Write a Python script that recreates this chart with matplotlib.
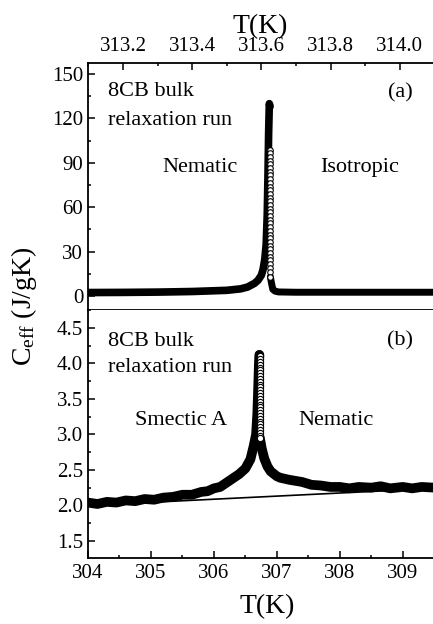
import matplotlib
matplotlib.use('Agg')
import matplotlib.pyplot as plt
from matplotlib.ticker import MultipleLocator, FormatStrFormatter

plt.rcParams['font.family'] = ['Liberation Serif', 'DejaVu Serif']
plt.rcParams['mathtext.fontset'] = 'custom'
plt.rcParams['mathtext.rm'] = 'Liberation Serif'
plt.rcParams['mathtext.it'] = 'Liberation Serif:italic'

# (a) nematic -> isotropic, thick part of the curve
t_ni = [313.10, 313.20, 313.30, 313.40, 313.50, 313.54, 313.56, 313.58, 313.59,
        313.60, 313.605, 313.61, 313.614, 313.617, 313.619, 313.621, 313.623,
        313.625]
c_ni = [2.3, 2.4, 2.6, 3.0, 3.8, 4.8, 6.0, 8.5, 10.5,
        14.0, 18.0, 25.0, 35.0, 55.0, 80.0, 110.0, 130.0,
        128.0]
# (a) open circles on the fast drop above the transition
t_ni_drop = [313.626] * 35
c_ni_drop = [99, 96.5, 94, 91.5, 89, 86.5, 84, 81.5, 79, 76.5, 74, 71.5, 69,
             66.5, 64, 61.5, 59, 56.5, 54, 51.5, 49, 46.5, 44, 41.5, 39, 36.5,
             34, 31.5, 29, 26.5, 24, 21.5, 19, 16, 13]
t_iso = [313.626, 313.629, 313.633, 313.640, 313.650, 313.70, 313.80, 313.90,
         314.00, 314.10]
c_iso = [13.0, 9.0, 4.5, 3.2, 2.7, 2.5, 2.5, 2.5, 2.5, 2.5]

# (b) smectic A -> nematic
t_an = [304.0, 304.15, 304.3, 304.45, 304.6, 304.75, 304.9, 305.05, 305.2, 305.35,
        305.5, 305.65, 305.8, 305.9, 306.0, 306.1, 306.25,
        306.4, 306.5, 306.58, 306.63, 306.67, 306.69, 306.705, 306.715, 306.722]
c_an = [2.04, 2.02, 2.05, 2.04, 2.07, 2.06, 2.09, 2.08, 2.11, 2.12,
        2.15, 2.15, 2.19, 2.20, 2.24, 2.26, 2.35,
        2.44, 2.52, 2.65, 2.83, 3.00, 3.30, 3.70, 4.00, 4.12]
t_an_drop = [306.727] * 30
c_an_drop = [4.10, 4.06, 4.02, 3.98, 3.94, 3.90, 3.86, 3.82, 3.78, 3.74, 3.70,
             3.66, 3.62, 3.58, 3.54, 3.50, 3.46, 3.42, 3.38, 3.34, 3.30, 3.26,
             3.22, 3.18, 3.14, 3.10, 3.06, 3.02, 2.98, 2.95]
t_nem = [306.73, 306.76, 306.80, 306.85, 306.90, 307.00, 307.05, 307.20, 307.40,
         307.55, 307.70, 307.85, 308.00, 308.15, 308.30, 308.50, 308.65, 308.80,
         309.00, 309.15, 309.30, 309.50]
c_nem = [2.95, 2.80, 2.66, 2.55, 2.48, 2.41, 2.39, 2.36, 2.33,
         2.29, 2.28, 2.26, 2.26, 2.24, 2.26, 2.25, 2.27, 2.24,
         2.26, 2.24, 2.26, 2.25]
# straight background line in (b)
t_bg = [304.0, 309.5]
c_bg = [2.0, 2.24]

W, H = 433, 624
fig = plt.figure(figsize=(W / 100, H / 100), dpi=100)
left, right = 88, 433
ax1 = fig.add_axes([left / W, 1 - 310 / H, (right - left) / W, 247 / H])
ax2 = fig.add_axes([left / W, 1 - 558 / H, (right - left) / W, 248 / H])

for ax in (ax1, ax2):
    ax.spines['right'].set_visible(False)
    for s in ('left', 'top', 'bottom'):
        ax.spines[s].set_linewidth(1.3)
    ax.tick_params(which='both', direction='in', width=1.1, labelsize=15,
                   right=False)
    ax.tick_params(which='major', length=5)
    ax.tick_params(which='minor', length=2.5)

# panel (a)
ax1.plot(t_ni, c_ni, color='black', lw=5.5, solid_capstyle='round')
ax1.plot(t_iso, c_iso, color='black', lw=5, solid_capstyle='round')
ax1.plot(t_ni_drop, c_ni_drop, 'o', ms=4, mfc='white', mec='black', mew=0.8)
ax1.set_xlim(313.099, 314.096)
ax1.set_ylim(-9.5, 157.5)
ax1.xaxis.tick_top()
ax1.xaxis.set_label_position('top')
ax1.tick_params(axis='x', which='both', bottom=False, top=True, pad=5)
ax1.xaxis.set_major_locator(MultipleLocator(0.2))
ax1.xaxis.set_minor_locator(MultipleLocator(0.1))
ax1.xaxis.set_major_formatter(FormatStrFormatter('%.1f'))
ax1.yaxis.set_major_locator(MultipleLocator(30))
ax1.yaxis.set_minor_locator(MultipleLocator(15))
ax1.set_xlabel('T(K)', fontsize=20, labelpad=3)

fs = 16
ax1.text(0.058, 0.885, '8CB bulk', transform=ax1.transAxes, fontsize=fs, va='center')
ax1.text(0.058, 0.769, 'relaxation run', transform=ax1.transAxes, fontsize=fs, va='center')
ax1.text(0.904, 0.879, '(a)', transform=ax1.transAxes, fontsize=fs, va='center', ha='center')
ax1.text(0.325, 0.575, 'Nematic', transform=ax1.transAxes, fontsize=fs, va='center', ha='center')
ax1.text(0.788, 0.575, 'Isotropic', transform=ax1.transAxes, fontsize=fs, va='center', ha='center')

# panel (b)
ax2.plot(t_bg, c_bg, color='black', lw=1.2)
ax2.plot(t_an, c_an, color='black', lw=7, solid_capstyle='round')
ax2.plot(t_nem, c_nem, color='black', lw=7, solid_capstyle='round')
ax2.plot(t_an_drop, c_an_drop, 'o', ms=4.5, mfc='white', mec='black', mew=0.8)
ax2.set_xlim(304.0, 309.48)
ax2.set_ylim(1.26, 4.75)
ax2.spines['top'].set_visible(False)
ax2.tick_params(axis='x', which='both', top=False, pad=4)
ax2.xaxis.set_major_locator(MultipleLocator(1))
ax2.xaxis.set_minor_locator(MultipleLocator(0.5))
ax2.yaxis.set_major_locator(MultipleLocator(0.5))
ax2.yaxis.set_minor_locator(MultipleLocator(0.25))
ax2.yaxis.set_major_formatter(FormatStrFormatter('%.1f'))
ax2.set_xlabel('T(K)', fontsize=20)
ax2.xaxis.set_label_coords(0.519, -0.145)

ax2.text(0.058, 0.875, '8CB bulk', transform=ax2.transAxes, fontsize=fs, va='center')
ax2.text(0.058, 0.77, 'relaxation run', transform=ax2.transAxes, fontsize=fs, va='center')
ax2.text(0.904, 0.875, '(b)', transform=ax2.transAxes, fontsize=fs, va='center', ha='center')
ax2.text(0.27, 0.556, 'Smectic A', transform=ax2.transAxes, fontsize=fs, va='center', ha='center')
ax2.text(0.719, 0.556, 'Nematic', transform=ax2.transAxes, fontsize=fs, va='center', ha='center')

fig.text(24 / W, 1 - 306 / H, r'C$_{\mathrm{eff}}$ (J/gK)', rotation=90,
         fontsize=20, ha='center', va='center')

fig.savefig('out.png', dpi=100)
